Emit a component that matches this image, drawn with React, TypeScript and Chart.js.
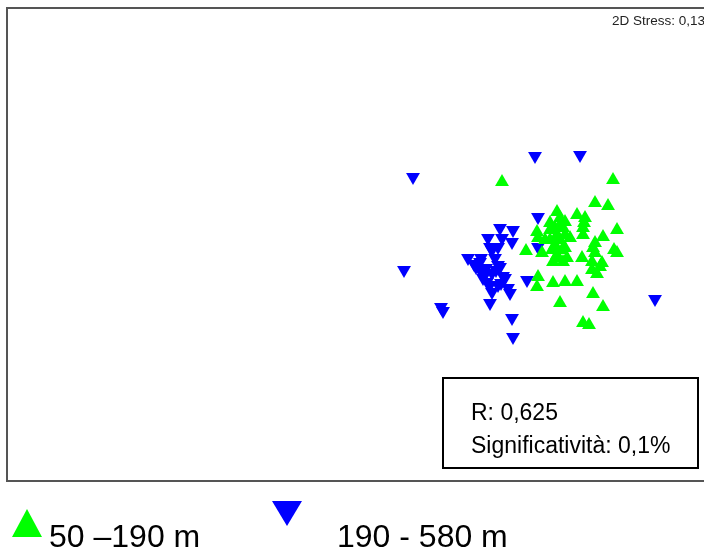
import React, { useEffect, useRef } from "react";
import { Chart, registerables } from "chart.js";

Chart.register(...registerables);

const seriesNames = ["50 –190 m", "190 - 580 m"];
const seriesColors = ["#00ff00", "#0000ff"];

// MDS coordinates, group 50–190 m
const shallowX = [1.45, 2.56, 2.38, 2.51, 2.0, 2.03, 2.2, 2.28, 1.93, 1.98, 1.8, 2.06, 2.26, 2.26, 2.6, 2.46, 1.81, 1.69, 1.85, 2.0, 2.03, 1.98, 2.08, 2.0, 2.06, 2.13, 1.96, 2.38, 2.36, 2.38, 2.6, 2.57, 2.25, 2.35, 2.45, 2.43, 2.35, 2.4, 1.81, 1.8, 1.96, 2.08, 2.2, 2.36, 2.46, 2.03, 2.26, 2.32, 1.93, 2.08, 2.27, 2.1, 1.88, 2.05, 1.95, 2.08, 2.01, 1.93, 2.03];
const shallowY = [0.59, 0.61, 0.38, 0.35, 0.29, 0.23, 0.26, 0.23, 0.18, 0.13, 0.09, 0.13, 0.13, 0.06, 0.11, 0.04, 0.03, -0.1, -0.12, 0.06, 0.01, -0.04, -0.07, -0.14, -0.21, 0.03, -0.21, -0.02, -0.07, -0.12, -0.12, -0.09, -0.17, -0.21, -0.22, -0.26, -0.29, -0.33, -0.36, -0.46, -0.42, -0.41, -0.41, -0.53, -0.66, -0.62, -0.82, -0.84, 0.11, 0.19, 0.18, -0.17, 0.01, -0.09, -0.09, 0.06, -0.17, 0.01, 0.16];

// MDS coordinates, group 190–580 m
const deepX = [1.78, 2.23, 0.56, 1.81, 0.47, 0.84, 0.86, 1.55, 1.56, 2.98, 1.7, 1.81, 1.43, 1.56, 1.31, 1.45, 1.55, 1.35, 1.11, 1.23, 1.41, 1.23, 1.35, 1.46, 1.3, 1.41, 1.51, 1.35, 1.33, 1.17, 1.29, 1.38, 1.41, 1.26, 1.48, 1.53, 1.43, 1.33, 1.19, 1.28, 1.39, 1.44, 1.33, 1.24];
const deepY = [0.85, 0.86, 0.64, 0.24, -0.29, -0.66, -0.7, -0.77, -0.96, -0.58, -0.39, -0.06, 0.13, 0.11, 0.03, 0.03, -0.01, -0.09, -0.17, -0.21, -0.24, -0.29, -0.32, -0.35, -0.41, -0.44, -0.47, -0.51, -0.62, -0.23, -0.27, -0.17, -0.06, -0.37, -0.37, -0.52, -0.26, -0.06, -0.26, -0.33, -0.29, -0.42, -0.44, -0.17];

const xRange = [-3.5, 3.47];
const yRange = [-2.4, 2.33];

const stressLabel = "2D Stress: 0,13";
const statLines = ["R: 0,625", "Significatività: 0,1%"];

const FONT = "'Liberation Sans', Arial, sans-serif";

const decorPlugin = {
  id: "decor",
  beforeDatasetsDraw(chart: any) {
    const { ctx, chartArea } = chart;
    ctx.save();
    ctx.strokeStyle = "#555555";
    ctx.lineWidth = 2;
    ctx.beginPath();
    ctx.moveTo(chartArea.right + 10, chartArea.top);
    ctx.lineTo(chartArea.left, chartArea.top);
    ctx.lineTo(chartArea.left, chartArea.bottom);
    ctx.lineTo(chartArea.right + 10, chartArea.bottom);
    ctx.stroke();

    ctx.fillStyle = "#222222";
    ctx.font = `13.5px ${FONT}`;
    ctx.textBaseline = "alphabetic";
    ctx.textAlign = "left";
    ctx.fillText(stressLabel, chartArea.left + 605, chartArea.top + 17);
    ctx.restore();
  },
  afterDraw(chart: any) {
    const { ctx, chartArea } = chart;
    ctx.save();
    // statistics box
    const bx = chartArea.left + 436;
    const by = chartArea.top + 370;
    ctx.fillStyle = "#ffffff";
    ctx.fillRect(bx, by, 255, 90);
    ctx.strokeStyle = "#000000";
    ctx.lineWidth = 2;
    ctx.strokeRect(bx, by, 255, 90);
    ctx.fillStyle = "#000000";
    ctx.font = `23px ${FONT}`;
    ctx.textAlign = "left";
    ctx.textBaseline = "alphabetic";
    ctx.fillText(statLines[0], bx + 28, by + 42);
    ctx.fillText(statLines[1], bx + 28, by + 75);

    // legend
    const base = chartArea.bottom;
    ctx.fillStyle = seriesColors[0];
    ctx.beginPath();
    ctx.moveTo(27, base + 28);
    ctx.lineTo(42, base + 56);
    ctx.lineTo(12, base + 56);
    ctx.closePath();
    ctx.fill();

    ctx.fillStyle = seriesColors[1];
    ctx.beginPath();
    ctx.moveTo(272, base + 20);
    ctx.lineTo(302, base + 20);
    ctx.lineTo(287, base + 45);
    ctx.closePath();
    ctx.fill();

    ctx.fillStyle = "#000000";
    ctx.font = `32px ${FONT}`;
    ctx.fillText(seriesNames[0], 49, base + 66);
    ctx.fillText(seriesNames[1], 337, base + 66);
    ctx.restore();
  },
};

export default function App() {
  const ref = useRef<HTMLCanvasElement | null>(null);

  useEffect(() => {
    if (!ref.current) return;
    const toPts = (xs: number[], ys: number[]) => xs.map((x, i) => ({ x, y: ys[i] }));
    const chart = new Chart(ref.current, {
      type: "scatter",
      data: {
        datasets: [
          {
            label: seriesNames[0],
            data: toPts(shallowX, shallowY),
            pointStyle: "triangle",
            pointRadius: 8,
            pointRotation: 0,
            backgroundColor: seriesColors[0],
            borderColor: seriesColors[0],
            borderWidth: 0,
          },
          {
            label: seriesNames[1],
            data: toPts(deepX, deepY),
            pointStyle: "triangle",
            pointRadius: 8,
            pointRotation: 180,
            backgroundColor: seriesColors[1],
            borderColor: seriesColors[1],
            borderWidth: 0,
          },
        ],
      },
      options: {
        responsive: false,
        animation: false,
        layout: { autoPadding: false, padding: { left: 7, top: 8, right: 0, bottom: 71 } },
        plugins: {
          legend: { display: false },
          tooltip: { enabled: false },
        },
        scales: {
          x: { type: "linear", display: false, min: xRange[0], max: xRange[1] },
          y: { type: "linear", display: false, min: yRange[0], max: yRange[1] },
        },
      },
      plugins: [decorPlugin],
    });
    return () => chart.destroy();
  }, []);

  return (
    <div style={{ position: "absolute", left: 0, top: 0, width: 704, height: 552, background: "#ffffff" }}>
      <canvas ref={ref} width={704} height={552} style={{ display: "block", width: 704, height: 552 }} />
    </div>
  );
}
